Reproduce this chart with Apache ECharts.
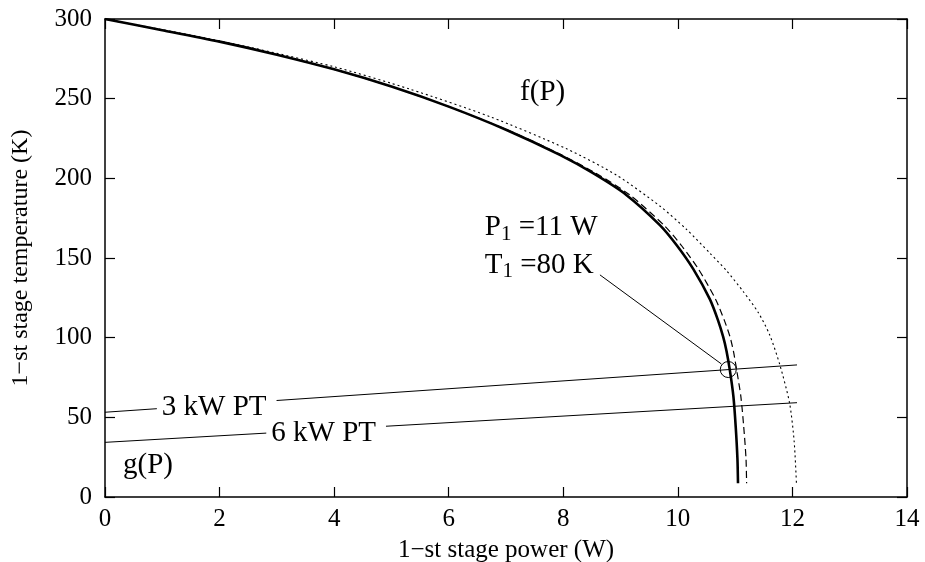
<!DOCTYPE html>
<html>
<head>
<meta charset="utf-8">
<script src="https://cdn.jsdelivr.net/npm/echarts@6/dist/echarts.min.js"></script>
<style>
  html, body { margin: 0; padding: 0; background: #fff; }
  #chart { width: 925px; height: 562px; }
</style>
</head>
<body>
<div id="chart"></div>
<script>
// f(P) solid curve
var solidP = [0, 1, 2, 3, 4, 5, 6, 7, 7.94, 8.52, 9.1, 9.69, 9.98, 10.27, 10.56, 10.7, 10.79, 10.85, 10.91, 10.97, 11.01, 11.04, 11.05];
var solidT = [300, 293, 285.8, 277.6, 268.4, 257.6, 245, 230.5, 214.7, 203.2, 189.6, 170.5, 158, 143, 124, 111, 100.6, 91.5, 79, 63, 44, 24, 8.6];
// dashed curve
var dashP = [0, 1, 2, 3, 4, 5, 6, 7.02, 7.97, 8.57, 9.16, 9.76, 10.06, 10.36, 10.66, 10.81, 10.91, 10.97, 11.03, 11.1, 11.15, 11.19, 11.2];
var dashT = [300, 293, 285.8, 277.6, 268.4, 257.6, 245, 230.5, 214.7, 203.2, 189.6, 170.5, 158, 143, 124, 111, 100.6, 91.5, 79, 63, 44, 24, 8.6];
// dotted curve
var dotP = [0, 2, 4, 5.32, 6.72, 8.06, 8.93, 9.69, 10.15, 10.56, 10.85, 11.14, 11.4, 11.6, 11.78, 11.95, 12.03, 12.07];
var dotT = [300, 286.3, 270, 256, 238.7, 218.5, 202, 182.5, 168, 153, 142, 129, 116, 102, 83, 59, 35, 8.6];
// g(P) pulse tube lines
var pt3P = [0, 12.08];
var pt3T = [53.2, 82.9];
var pt6P = [0, 12.08];
var pt6T = [34.3, 59.2];
// operating point and pointer
var opPoint = [10.88, 80];
var pointerP = [8.64, 10.76];
var pointerT = [139.4, 83.5];

var xTicks = [0, 2, 4, 6, 8, 10, 12, 14];
var yTicks = [0, 50, 100, 150, 200, 250, 300];

function zip(a, b) {
	var out = [];
	for (var i = 0; i < a.length; i++) {
		out.push([a[i], b[i]]);
	}
	return out;
}

var FONT = 'Liberation Serif';
var chart = echarts.init(document.getElementById('chart'));

function xAx(pos, showLabel) {
	return {
		type: 'value', position: pos, min: xTicks[0], max: xTicks[xTicks.length - 1], interval: 2,
		name: showLabel ? '1\u2212st stage power (W)' : '', nameLocation: 'middle', nameGap: 41,
		nameTextStyle: { fontFamily: FONT, fontSize: 25, color: '#000' },
		axisLine: { show: true, onZero: false, lineStyle: { color: '#000', width: 1.5 } },
		axisTick: { show: true, inside: true, length: 10, lineStyle: { color: '#000', width: 1.2 } },
		axisLabel: { show: showLabel, fontFamily: FONT, fontSize: 25, color: '#000', margin: 10 },
		splitLine: { show: false }
	};
}
function yAx(pos, showLabel) {
	return {
		type: 'value', position: pos, min: yTicks[0], max: yTicks[yTicks.length - 1], interval: 50,
		name: showLabel ? '1\u2212st stage temperature (K)' : '', nameLocation: 'middle', nameGap: 72,
		nameTextStyle: { fontFamily: FONT, fontSize: 24, color: '#000' },
		axisLine: { show: true, onZero: false, lineStyle: { color: '#000', width: 1.5 } },
		axisTick: { show: true, inside: true, length: 10, lineStyle: { color: '#000', width: 1.2 } },
		axisLabel: { show: showLabel, fontFamily: FONT, fontSize: 25, color: '#000', margin: 13 },
		splitLine: { show: false }
	};
}

function lineSeries(data, width, type, smooth) {
	return {
		type: 'line', data: data, symbol: 'none', smooth: smooth,
		lineStyle: { color: '#000', width: width, type: type },
		silent: true, z: 2
	};
}

var option = {
	animation: false,
	backgroundColor: '#fff',
	grid: { left: 105, right: 18, top: 19, bottom: 65, outerBoundsMode: 'none', containLabel: false },
	xAxis: [xAx('bottom', true), xAx('top', false)],
	yAxis: [yAx('left', true), yAx('right', false)],
	series: [
		lineSeries(zip(dotP, dotT), 1.1, [2, 3], 0.25),
		lineSeries(zip(dashP, dashT), 1.2, [7, 4], 0.25),
		lineSeries(zip(solidP, solidT), 2.6, 'solid', 0.25),
		lineSeries(zip(pt3P, pt3T), 1, 'solid', false),
		lineSeries(zip(pt6P, pt6T), 1, 'solid', false),
		lineSeries(zip(pointerP, pointerT), 1, 'solid', false),
		{
			type: 'scatter', data: [opPoint], symbol: 'circle', symbolSize: 16,
			itemStyle: { color: 'transparent', borderColor: '#000', borderWidth: 1, opacity: 1 }, z: 3, silent: true
		},
		{
			// text annotations, placed in data units
			type: 'scatter', symbolSize: 0, silent: true, z: 5,
			itemStyle: { opacity: 1 },
			label: {
				show: true, position: 'inside', fontFamily: FONT, fontSize: 29, color: '#000',
				textBorderWidth: 0, textBorderColor: 'transparent',
				formatter: function (p) { return p.data.text; },
				rich: {
					n: { fontFamily: FONT, fontSize: 29, color: '#000' },
					s: { fontFamily: FONT, fontSize: 21, color: '#000', padding: [13, 0, 0, 0] }
				}
			},
			data: [
				{ value: [1.95, 56.5], text: '3 kW PT', label: { backgroundColor: '#fff', padding: [0, 10, 0, 5] } },
				{ value: [3.86, 40.2], text: '6 kW PT', label: { backgroundColor: '#fff', padding: [0, 10, 0, 5] } },
				{ value: [0.75, 20], text: 'g(P)' },
				{ value: [7.64, 254], text: 'f(P)' },
				{ value: [6.63, 168.9], text: '{n|P}{s|1}{n| =11 W}', label: { position: 'right', distance: 0 } },
				{ value: [6.63, 145.6], text: '{n|T}{s|1}{n| =80 K}', label: { position: 'right', distance: 0 } }
			]
		}
	]
};
chart.setOption(option);
</script>
</body>
</html>
